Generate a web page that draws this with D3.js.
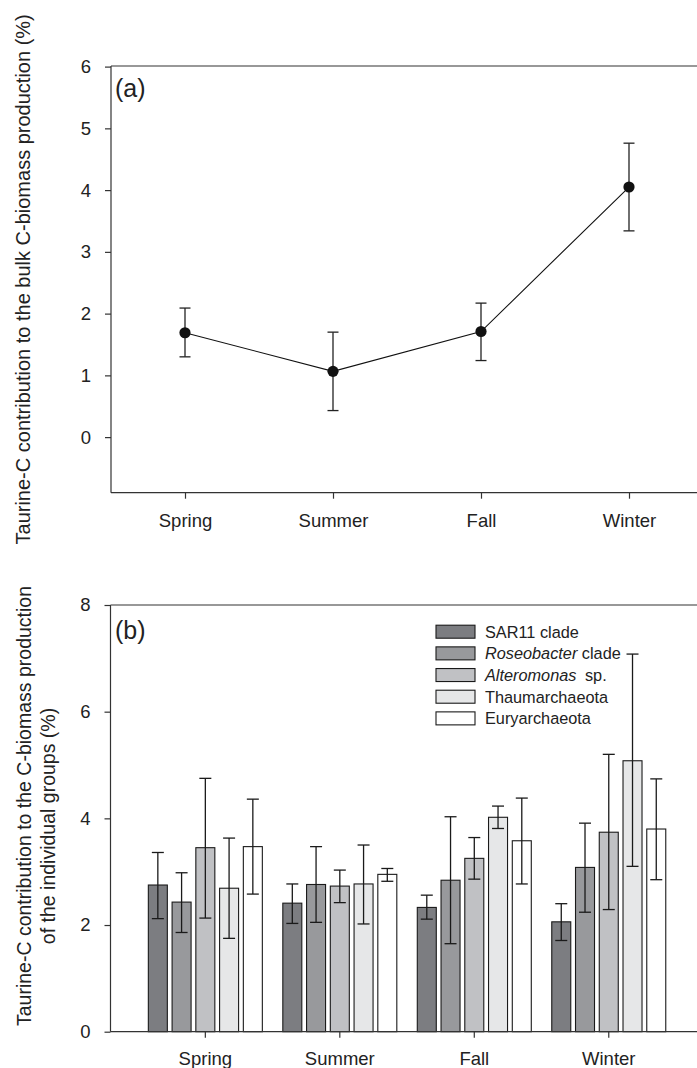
<!DOCTYPE html>
<html>
<head>
<meta charset="utf-8">
<script src="https://cdn.jsdelivr.net/npm/d3@7"></script>
<style>
  html, body { margin: 0; padding: 0; background: #fff; }
  svg { display: block; }
  text { font-family: "Liberation Sans", Arial, Helvetica, sans-serif; fill: #222; }
</style>
</head>
<body>
<svg id="chart" width="697" height="1068"></svg>
<script>
// ---------- data ----------
const seasons = ["Spring", "Summer", "Fall", "Winter"];

// panel (a): bulk contribution (%)
const bulkMean  = [1.69, 1.065, 1.71, 4.05];
const bulkUpper = [2.09, 1.70, 2.17, 4.76];
const bulkLower = [1.30, 0.43, 1.24, 3.34];
const ticksA = [0, 1, 2, 3, 4, 5, 6];

// panel (b): individual groups (%)
const groupNames = ["SAR11 clade", "Roseobacter clade", "Alteromonas sp.", "Thaumarchaeota", "Euryarchaeota"];
const sar11Mean  = [2.75, 2.41, 2.33, 2.06];
const sar11Upper = [3.36, 2.77, 2.56, 2.40];
const sar11Lower = [2.12, 2.03, 2.11, 1.71];
const roseoMean  = [2.43, 2.76, 2.84, 3.08];
const roseoUpper = [2.98, 3.47, 4.03, 3.91];
const roseoLower = [1.86, 2.05, 1.65, 2.24];
const alteroMean  = [3.45, 2.73, 3.25, 3.74];
const alteroUpper = [4.75, 3.03, 3.64, 5.20];
const alteroLower = [2.13, 2.42, 2.86, 2.29];
const thaumMean  = [2.69, 2.77, 4.02, 5.08];
const thaumUpper = [3.63, 3.50, 4.23, 7.08];
const thaumLower = [1.75, 2.02, 3.81, 3.10];
const euryMean  = [3.47, 2.95, 3.58, 3.80];
const euryUpper = [4.36, 3.06, 4.38, 4.74];
const euryLower = [2.58, 2.82, 2.77, 2.85];
const ticksB = [0, 2, 4, 6, 8];

const groupColors = ["#7c7d81", "#98999c", "#c0c1c4", "#e6e7e8", "#ffffff"];

// ---------- build ----------
const svg = d3.select("#chart");
const W = 697;
const axisColor = "#333";
const tickFont = "18.5px";

// ===== Panel (a) =====
const aLeft = 111, aTop = 66, aBottom = 492.7;
const xA = d3.scalePoint().domain(seasons).range([aLeft, aLeft + 4 * 148]).padding(0.5);
const yA = d3.scaleLinear().domain([-0.9, 6]).range([aBottom, 66.6]);

const gA = svg.append("g");
gA.append("line").attr("x1", aLeft).attr("x2", W).attr("y1", aTop).attr("y2", aTop)
  .attr("stroke", axisColor).attr("stroke-width", 1.2);
gA.append("line").attr("x1", aLeft).attr("x2", W).attr("y1", aBottom).attr("y2", aBottom)
  .attr("stroke", axisColor).attr("stroke-width", 1.2);
gA.append("line").attr("x1", aLeft).attr("x2", aLeft).attr("y1", aTop).attr("y2", aBottom)
  .attr("stroke", axisColor).attr("stroke-width", 1.2);

const axA_y = gA.append("g").attr("transform", `translate(${aLeft},0)`)
  .call(d3.axisLeft(yA).tickValues(ticksA).tickFormat(d3.format("d")).tickSize(6).tickPadding(14).tickSizeOuter(0));
const axA_x = gA.append("g").attr("transform", `translate(0,${aBottom})`)
  .call(d3.axisBottom(xA).tickSize(6).tickPadding(15).tickSizeOuter(0));
[axA_y, axA_x].forEach(ax => {
  ax.select(".domain").remove();
  ax.selectAll(".tick line").attr("stroke", axisColor).attr("stroke-width", 1.2);
  ax.selectAll(".tick text").style("font-size", tickFont).attr("fill", "#222")
    .style("font-family", '"Liberation Sans", Arial, sans-serif');
});

const ptsA = seasons.map((s, i) => ({ s, m: bulkMean[i], hi: bulkUpper[i], lo: bulkLower[i] }));
gA.append("path").datum(ptsA)
  .attr("fill", "none").attr("stroke", "#111").attr("stroke-width", 1.1)
  .attr("d", d3.line().x(d => xA(d.s)).y(d => yA(d.m)));
const ebA = gA.selectAll(".ebA").data(ptsA).enter().append("g").attr("class", "ebA")
  .attr("stroke", "#222").attr("stroke-width", 1.3);
ebA.append("line").attr("x1", d => xA(d.s)).attr("x2", d => xA(d.s))
  .attr("y1", d => yA(d.hi)).attr("y2", d => yA(d.lo));
ebA.append("line").attr("x1", d => xA(d.s) - 5.5).attr("x2", d => xA(d.s) + 5.5)
  .attr("y1", d => yA(d.hi)).attr("y2", d => yA(d.hi));
ebA.append("line").attr("x1", d => xA(d.s) - 5.5).attr("x2", d => xA(d.s) + 5.5)
  .attr("y1", d => yA(d.lo)).attr("y2", d => yA(d.lo));
gA.selectAll(".ptA").data(ptsA).enter().append("circle")
  .attr("cx", d => xA(d.s)).attr("cy", d => yA(d.m)).attr("r", 5.6).attr("fill", "#111");

gA.append("text").attr("x", 115).attr("y", 97).style("font-size", "25px").text("(a)");

gA.append("text")
  .attr("transform", `translate(30,${(aTop + aBottom) / 2}) rotate(-90)`)
  .attr("text-anchor", "middle").style("font-size", "20px")
  .text("Taurine-C contribution to the bulk C-biomass production (%)");

// ===== Panel (b) =====
const bLeft = 110.5, bTop = 605, bBottom = 1031.7;
const xB = d3.scaleBand().domain(seasons).range([138.1, 676.0]).padding(0);
const xInner = d3.scaleBand().domain(groupNames).range([-57, 57]).paddingInner(0.2).paddingOuter(0);
const yB = d3.scaleLinear().domain([0, 8]).range([bBottom, bTop]);

const gB = svg.append("g");
gB.append("line").attr("x1", bLeft).attr("x2", W).attr("y1", bTop).attr("y2", bTop)
  .attr("stroke", axisColor).attr("stroke-width", 1.2);
gB.append("line").attr("x1", bLeft).attr("x2", bLeft).attr("y1", bTop).attr("y2", bBottom)
  .attr("stroke", axisColor).attr("stroke-width", 1.2);

const groupData = [
  [sar11Mean, sar11Upper, sar11Lower],
  [roseoMean, roseoUpper, roseoLower],
  [alteroMean, alteroUpper, alteroLower],
  [thaumMean, thaumUpper, thaumLower],
  [euryMean, euryUpper, euryLower]
];
const barsB = [];
groupNames.forEach((g, gi) => {
  seasons.forEach((s, si) => {
    barsB.push({ g, gi, s, m: groupData[gi][0][si], hi: groupData[gi][1][si], lo: groupData[gi][2][si] });
  });
});
const bx = d => xB(d.s) + xB.bandwidth() / 2 + xInner(d.g);
const bc = d => bx(d) + xInner.bandwidth() / 2;

gB.selectAll(".bar").data(barsB).enter().append("rect")
  .attr("x", bx).attr("width", xInner.bandwidth())
  .attr("y", d => yB(d.m)).attr("height", d => yB(0) - yB(d.m))
  .attr("fill", d => groupColors[d.gi]).attr("stroke", "#1a1a1a").attr("stroke-width", 1.1);

const ebB = gB.selectAll(".ebB").data(barsB).enter().append("g")
  .attr("stroke", "#1a1a1a").attr("stroke-width", 1.3);
ebB.append("line").attr("x1", bc).attr("x2", bc).attr("y1", d => yB(d.hi)).attr("y2", d => yB(d.lo));
ebB.append("line").attr("x1", d => bc(d) - 6).attr("x2", d => bc(d) + 6)
  .attr("y1", d => yB(d.hi)).attr("y2", d => yB(d.hi));
ebB.append("line").attr("x1", d => bc(d) - 6).attr("x2", d => bc(d) + 6)
  .attr("y1", d => yB(d.lo)).attr("y2", d => yB(d.lo));

gB.append("line").attr("x1", bLeft).attr("x2", W).attr("y1", bBottom).attr("y2", bBottom)
  .attr("stroke", axisColor).attr("stroke-width", 1.2);

const axB_y = gB.append("g").attr("transform", `translate(${bLeft},0)`)
  .call(d3.axisLeft(yB).tickValues(ticksB).tickFormat(d3.format("d")).tickSize(6).tickPadding(14).tickSizeOuter(0));
const axB_x = gB.append("g").attr("transform", `translate(0,${bBottom})`)
  .call(d3.axisBottom(xB).tickSize(6).tickPadding(14).tickSizeOuter(0));
[axB_y, axB_x].forEach(ax => {
  ax.select(".domain").remove();
  ax.selectAll(".tick line").attr("stroke", axisColor).attr("stroke-width", 1.2);
  ax.selectAll(".tick text").style("font-size", tickFont).attr("fill", "#222")
    .style("font-family", '"Liberation Sans", Arial, sans-serif');
});

gB.append("text").attr("x", 115).attr("y", 639).style("font-size", "25px").text("(b)");

// legend
const lg = gB.append("g");
const rowY = i => 631.7 + i * 21.67;
groupNames.forEach((name, i) => {
  lg.append("rect").attr("x", 436).attr("y", rowY(i) - 6.5).attr("width", 39).attr("height", 13)
    .attr("fill", groupColors[i]).attr("stroke", "#1a1a1a").attr("stroke-width", 1.1);
  const t = lg.append("text").attr("x", 485).attr("y", rowY(i) + 5.8).style("font-size", "16.3px");
  if (i === 1) {
    t.append("tspan").style("font-style", "italic").text("Roseobacter");
    t.append("tspan").text(" clade");
  } else if (i === 2) {
    t.append("tspan").style("font-style", "italic").text("Alteromonas");
    t.append("tspan").attr("dx", 4).text(" sp.");
  } else {
    t.text(name);
  }
});

// y title (b): two centred lines
gB.append("text")
  .attr("transform", `translate(31,806) rotate(-90)`)
  .attr("text-anchor", "middle").style("font-size", "19.5px")
  .text("Taurine-C contribution to the C-biomass production");
gB.append("text")
  .attr("transform", `translate(54.5,826) rotate(-90)`)
  .attr("text-anchor", "middle").style("font-size", "19.5px")
  .text("of the individual groups (%)");
</script>
</body>
</html>
